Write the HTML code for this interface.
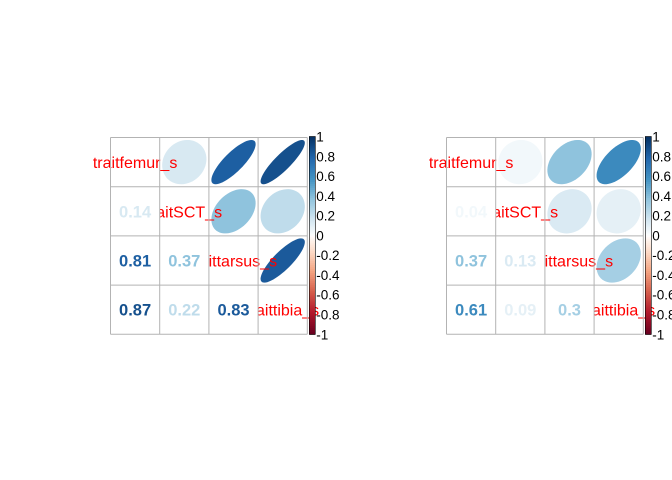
<!DOCTYPE html>
<html><head><meta charset="utf-8"><style>
body{margin:0;background:#fff;}
svg{display:block;font-family:"Liberation Sans",Arial,sans-serif;}
</style></head><body>
<svg id="c" width="672" height="480"></svg>
<script>
const varNames = ["traitfemur_s","traitSCT_s","traittarsus_s","traittibia_s"];
const corrLeft = [0.14,0.81,0.87,0.37,0.22,0.83]; // pairs (1,2),(1,3),(1,4),(2,3),(2,4),(3,4)
const corrRight = [0.04,0.37,0.61,0.13,0.09,0.3];
const barTicks = [1,0.8,0.6,0.4,0.2,0,-0.2,-0.4,-0.6,-0.8,-1];
const pal = ["#67001F","#B2182B","#D6604D","#F4A582","#FDDBC7","#FFFFFF","#D1E5F0","#92C5DE","#4393C3","#2166AC","#053061"];
const NS="http://www.w3.org/2000/svg";
const svg=document.getElementById('c');
function hx(c){return [1,3,5].map(i=>parseInt(c.substr(i,2),16));}
function col(v){const w=Math.sign(v)*Math.pow(Math.abs(v),0.9);let p=(w+1)/2*10;let i=Math.min(9,Math.floor(p));let f=p-i;let a=hx(pal[i]),b=hx(pal[i+1]);
 return 'rgb('+a.map((x,k)=>Math.round(x+(b[k]-x)*f)).join(',')+')';}
function mk(t,attrs,parent){const e=document.createElementNS(NS,t);for(const k in attrs)e.setAttribute(k,attrs[k]);(parent||svg).appendChild(e);return e;}
function pairIdx(i,j){const pairs=[[0,1],[0,2],[0,3],[1,2],[1,3],[2,3]];return pairs.findIndex(p=>p[0]===Math.min(i,j)&&p[1]===Math.max(i,j));}
function plot(x0,y0,vals,name){
 const n=4,cs=49.2,g=mk('g',{});
 
 
 for(let i=0;i<n;i++)for(let j=i+1;j<n;j++){
  const v=vals[pairIdx(i,j)],cx=x0+(j+.5)*cs,cy=y0+(i+.5)*cs;
  mk('rect',{x:x0+j*cs,y:y0+i*cs,width:cs,height:cs,fill:'#fff'},g);
  let d='';const r=cs*0.45,a=Math.acos(v)/2;
  for(let k=0;k<=60;k++){const t=k/60*2*Math.PI;const ex=Math.cos(t+a)*r,ey=-Math.cos(t-a)*r;d+=(k?'L':'M')+(cx+ex).toFixed(2)+' '+(cy+ey).toFixed(2);}
  const e=mk('path',{d:d+'Z',fill:col(v)},g);
  
  
 }
 for(let i=0;i<n;i++){
  const t=mk('text',{x:x0+(i+.5)*cs,y:y0+(i+.5)*cs+6,'text-anchor':'middle','font-size':16,fill:'#ff0000'},g);
  t.textContent=varNames[i];
  
  
  for(let j=0;j<i;j++){
   const v=vals[pairIdx(i,j)];
   mk('rect',{x:x0+j*cs,y:y0+i*cs,width:cs,height:cs,fill:'#fff'},g);
   const nt=mk('text',{x:x0+(j+.5)*cs,y:y0+(i+.5)*cs+6,'text-anchor':'middle','font-size':16.5,'font-weight':'bold',fill:col(v)},g);
   nt.textContent=String(v);
   
   
  }
 }
 for(let k=0;k<=n;k++){
  mk('line',{x1:x0+k*cs,y1:y0,x2:x0+k*cs,y2:y0+n*cs,stroke:'#b3b3b3','stroke-width':1},g);
  mk('line',{x1:x0,y1:y0+k*cs,x2:x0+n*cs,y2:y0+k*cs,stroke:'#b3b3b3','stroke-width':1},g);
 }
 const bx=x0+n*cs+2,by=y0-1,bh=n*cs+1,bw=6;
 const nb=100;
 for(let k=0;k<nb;k++){const v=1-(k+.5)/nb*2;mk('rect',{x:bx,y:by+k*bh/nb,width:bw,height:bh/nb+0.5,fill:col(v)},g);}
 mk('rect',{x:bx,y:by,width:bw,height:bh,fill:'none',stroke:'#000','stroke-width':0.6},g);
 barTicks.forEach(tv=>{
  const yy=by+(1-tv)/2*bh;
  const tx=mk('text',{x:bx+bw+1,y:yy+5,'font-size':13.5,fill:'#000'},g);
  tx.textContent=String(tv);
  
  
 });
}
plot(110.5,137.5,corrLeft,'left-corrplot');
plot(446.5,137.5,corrRight,'right-corrplot');
</script>
</body></html>
